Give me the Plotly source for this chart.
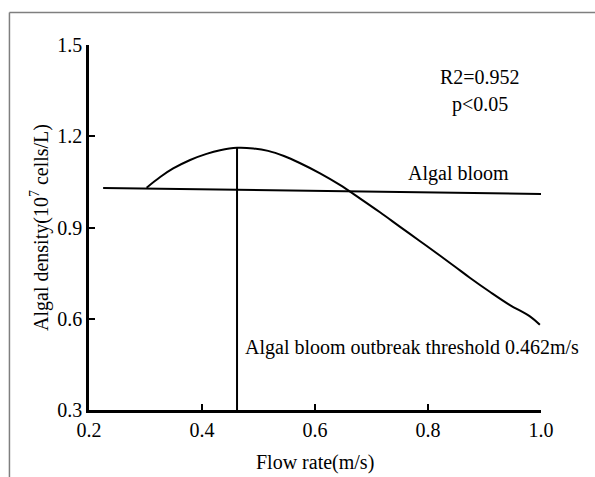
import plotly.graph_objects as go

# Fitted curve (flow rate vs algal density)
curve_x = [0.302, 0.326, 0.349, 0.379, 0.408, 0.432, 0.462, 0.491, 0.517, 0.545, 0.573,
           0.609, 0.644, 0.680, 0.715, 0.750, 0.786, 0.821, 0.848, 0.874, 0.910,
           0.945, 0.981, 0.998]
curve_y = [1.031, 1.066, 1.094, 1.122, 1.142, 1.154, 1.162, 1.160, 1.152, 1.135, 1.112,
           1.078, 1.040, 0.995, 0.950, 0.903, 0.855, 0.808, 0.771, 0.735, 0.688,
           0.645, 0.607, 0.580]

# Algal bloom reference line
bloom_x = [0.225, 1.0]
bloom_y = [1.030, 1.010]

# Threshold
threshold = 0.462
threshold_top = 1.162

x_ticks = [0.2, 0.4, 0.6, 0.8, 1.0]
x_ticklabels = ["0.2", "0.4", "0.6", "0.8", "1.0"]
y_ticks = [0.3, 0.6, 0.9, 1.2, 1.5]
y_ticklabels = ["0.3", "0.6", "0.9", "1.2", "1.5"]

FONT = "Liberation Serif"
FS = 20

fig = go.Figure()
fig.add_trace(go.Scatter(x=curve_x, y=curve_y, mode="lines",
                         line=dict(color="black", width=2, shape="spline", smoothing=1.0),
                         showlegend=False, hoverinfo="skip"))
fig.add_trace(go.Scatter(x=bloom_x, y=bloom_y, mode="lines",
                         line=dict(color="black", width=2), showlegend=False, hoverinfo="skip"))
fig.add_trace(go.Scatter(x=[threshold, threshold], y=[0.3, threshold_top], mode="lines",
                         line=dict(color="black", width=2), showlegend=False, hoverinfo="skip"))

# outer gray frame (top and left)
fig.add_shape(type="line", xref="paper", yref="paper", x0=-0.176, x1=1.2, y0=1.089, y1=1.089,
              line=dict(color="#7f7f7f", width=1.5))
fig.add_shape(type="line", xref="paper", yref="paper", x0=-0.176, x1=-0.176, y0=1.089, y1=-0.3,
              line=dict(color="#7f7f7f", width=1.5))

tf = dict(family=FONT, size=FS, color="black")
fig.add_annotation(x=0.892, y=1.395, text="R2=0.952", showarrow=False, font=tf)
fig.add_annotation(x=0.892, y=1.303, text="p<0.05", showarrow=False, font=tf)
fig.add_annotation(x=0.854, y=1.079, text="Algal bloom", showarrow=False, font=tf)
fig.add_annotation(x=0.4726, y=0.507, text="Algal bloom outbreak threshold 0.462m/s",
                   showarrow=False, xanchor="left", font=tf)
# x axis title
fig.add_annotation(x=0.5, y=-0.145, xref="paper", yref="paper", text="Flow rate(m/s)",
                   showarrow=False, xanchor="center", yanchor="middle", font=tf)

fig.update_layout(
    width=595, height=477,
    margin=dict(l=89, r=54, t=45, b=67),
    paper_bgcolor="white", plot_bgcolor="white",
    font=dict(family=FONT, size=FS, color="black"),
    xaxis=dict(range=[0.2, 1.0], tickvals=x_ticks, ticktext=x_ticklabels,
               ticks="inside", ticklen=6, tickwidth=2, tickcolor="black",
               showline=True, linecolor="black", linewidth=2.5, automargin=False,
               showgrid=False, zeroline=False, ticklabelstandoff=0,
               tickfont=dict(family=FONT, size=FS)),
    yaxis=dict(range=[0.3, 1.5], tickvals=y_ticks, ticktext=y_ticklabels,
               ticks="inside", ticklen=6, tickwidth=2, tickcolor="black",
               showline=True, linecolor="black", linewidth=2.5, automargin=False,
               showgrid=False, zeroline=False,
               title=dict(text="Algal density(10<sup>7</sup> cells/L)",
                          font=dict(family=FONT, size=FS), standoff=4),
               tickfont=dict(family=FONT, size=FS)),
)

fig.write_html("out.html")
